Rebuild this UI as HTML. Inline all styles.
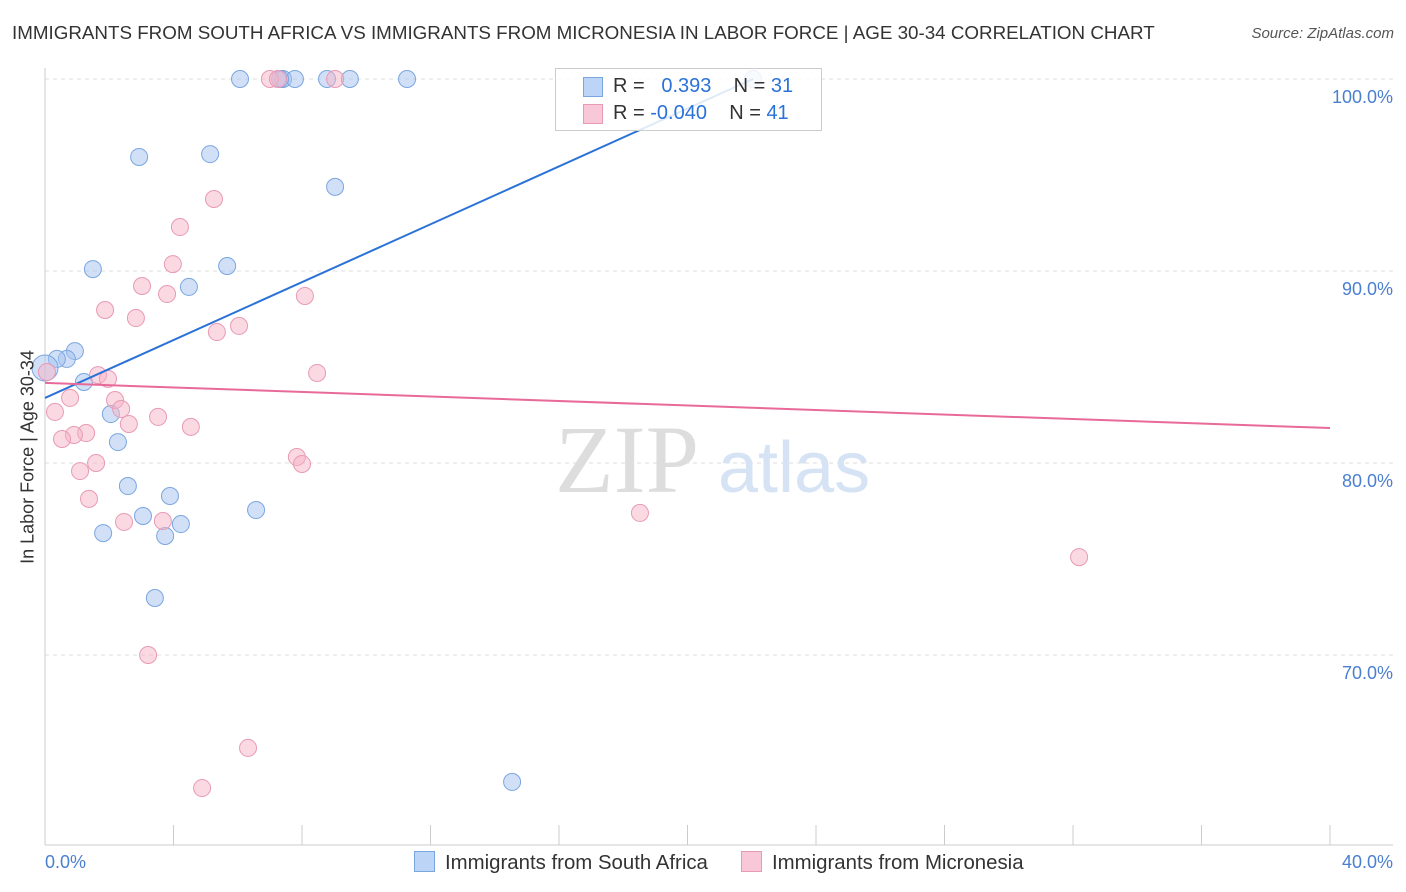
<!DOCTYPE html>
<html><head><meta charset="utf-8">
<style>
body{margin:0;width:1406px;height:892px;background:#fff;font-family:"Liberation Sans",sans-serif;overflow:hidden;position:relative}
.t{position:absolute;white-space:nowrap}
</style></head><body>
<div class="t" style="left:12px;top:22px;font-size:18.8px;color:#333">IMMIGRANTS FROM SOUTH AFRICA VS IMMIGRANTS FROM MICRONESIA IN LABOR FORCE | AGE 30-34 CORRELATION CHART</div>
<div class="t" style="right:12px;top:25px;font-size:15px;color:#555;font-style:italic">Source: ZipAtlas.com</div>
<svg id="chart" width="1406" height="892" style="position:absolute;left:0;top:0"></svg>
<script>
const xTicks=[0,4,8,12,16,20,24,28,32,36,40];
const yTicks=[70,80,90,100];
const blueX=[6.07,7.41,7.78,8.78,9.49,11.27,22.04,7.32,2.93,5.14,9.03,1.49,5.67,4.48,0.93,0.68,0.37,0,1.21,2.05,2.27,2.58,3.89,3.05,1.81,3.74,4.23,6.57,3.42,14.54];
const blueY=[100,100,100,100,100,100,100,100,95.94,96.09,94.38,90.10,90.26,89.17,85.83,85.42,85.42,84.95,84.22,82.55,81.09,78.80,78.28,77.24,76.35,76.20,76.82,77.55,72.97,63.39];
const pinkX=[7.00,7.25,9.03,5.26,4.20,3.98,3.02,3.80,8.09,1.87,2.83,6.04,5.35,8.47,1.65,1.96,0.06,0.78,2.18,0.31,2.37,2.61,3.52,4.54,1.28,0.90,0.53,1.59,7.84,8.00,1.09,1.37,2.46,3.67,18.52,32.19,3.21,6.32,4.89];
const pinkY=[100,100,100,93.75,92.29,90.36,89.22,88.80,88.70,87.97,87.55,87.14,86.82,84.69,84.58,84.38,84.74,83.39,83.28,82.66,82.81,82.03,82.40,81.88,81.56,81.46,81.25,80.00,80.31,79.95,79.58,78.13,76.93,76.98,77.40,75.10,70.00,65.16,63.07];
const blueTrend=[[0,83.39],[22.04,100]];
const pinkTrend=[[0,84.17],[40,81.82]];
const X=v=>45+v*32.125, Y=v=>79+(100-v)*19.2;
const svg=document.getElementById('chart');const NS='http://www.w3.org/2000/svg';
function mk(tag,a,parent){const e=document.createElementNS(NS,tag);for(const k in a)e.setAttribute(k,a[k]);(parent||svg).appendChild(e);return e;}
yTicks.forEach(v=>{const l=mk('line',{x1:45,x2:1393,y1:Y(v),y2:Y(v),stroke:'#ddd','stroke-dasharray':'4,4'});


const t=mk('text',{x:1393,y:Y(v)+24,'text-anchor':'end','font-size':18,fill:'#4a7fd0','font-family':'Liberation Sans'});t.textContent=v.toFixed(1)+'%';

});
const ax=mk('line',{x1:45,x2:45,y1:68,y2:845,stroke:'#ccc'});
const bx=mk('line',{x1:45,x2:1393,y1:845,y2:845,stroke:'#ccc'});
xTicks.forEach(v=>{const l=mk('line',{x1:X(v),x2:X(v),y1:825,y2:845,stroke:'#ccc'});

});
const wm=mk('text',{x:555,y:492,'font-size':96,fill:'#ddd','font-family':'Liberation Serif'});wm.textContent='ZIP';

const wm2=mk('text',{x:718,y:492,'font-size':72,fill:'#d5e3f5','font-family':'Liberation Sans'});wm2.textContent='atlas';

function pts(xs,ys,fill,stroke,name){xs.forEach((x,i)=>{const c=mk('circle',{cx:X(x),cy:Y(ys[i]),r:(x===0&&name==='blue-point')?13:8.5,fill:fill,stroke:stroke,'stroke-width':1});

});}
pts(blueX,blueY,'rgba(164,194,240,0.5)','#7aa6e0','blue-point');
pts(pinkX,pinkY,'rgba(245,180,200,0.5)','#e89ab5','pink-point');
const bl=mk('line',{x1:X(blueTrend[0][0]),y1:Y(blueTrend[0][1]),x2:X(blueTrend[1][0]),y2:Y(blueTrend[1][1]),stroke:'#2a72d8','stroke-width':2});

const pl=mk('line',{x1:X(pinkTrend[0][0]),y1:Y(pinkTrend[0][1]),x2:X(pinkTrend[1][0]),y2:Y(pinkTrend[1][1]),stroke:'#e86a98','stroke-width':2});

</script>
<div style="position:absolute;left:555px;top:68px;width:265px;height:61px;border:1px solid #ccc;background:rgba(255,255,255,0.85);font-size:20px">
<div style="position:absolute;left:27px;top:8px;width:18px;height:18px;background:#bcd4f5;border:1px solid #7aa6e0"></div>
<div class="t" style="left:57px;top:6px;color:#333">R = &nbsp;&nbsp;<span style="color:#2a72d8">0.393</span>&nbsp;&nbsp;&nbsp; N = <span style="color:#2a72d8">31</span></div>
<div style="position:absolute;left:27px;top:35px;width:18px;height:18px;background:#f9c8d8;border:1px solid #e89ab5"></div>
<div class="t" style="left:57px;top:33px;color:#333">R = <span style="color:#2a72d8">-0.040</span>&nbsp;&nbsp;&nbsp; N = <span style="color:#2a72d8">41</span></div>
</div>
<div class="t" style="left:28px;top:457px;font-size:18px;color:#333;transform:translate(-50%,-50%) rotate(-90deg)">In Labor Force | Age 30-34</div>
<div class="t" style="left:45px;top:852px;font-size:18px;color:#4a7fd0">0.0%</div>
<div class="t" style="right:13px;top:852px;font-size:18px;color:#4a7fd0">40.0%</div>
<div class="t" style="left:414px;top:851px;font-size:20.4px;color:#333"><span style="display:inline-block;width:19px;height:19px;background:#bcd4f5;border:1px solid #7aa6e0;vertical-align:-3px;margin-right:10px"></span>Immigrants from South Africa</div>
<div class="t" style="left:741px;top:851px;font-size:20.4px;color:#333"><span style="display:inline-block;width:19px;height:19px;background:#f9c8d8;border:1px solid #e89ab5;vertical-align:-3px;margin-right:10px"></span>Immigrants from Micronesia</div>
</body></html>
